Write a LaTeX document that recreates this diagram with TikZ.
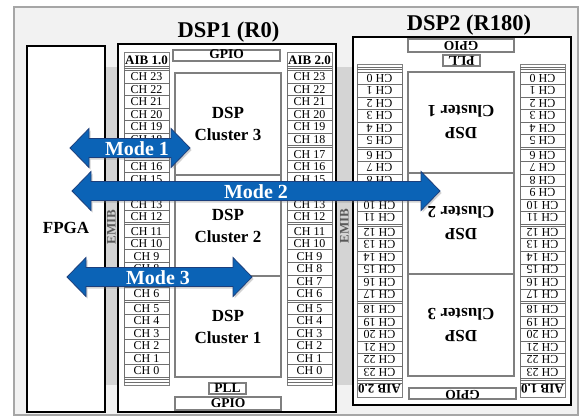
\documentclass[tikz,border=0pt]{standalone}
\usepackage{fontspec}
\setmainfont{Liberation Serif}
\usetikzlibrary{shadows}
\definecolor{bgc}{HTML}{F2F2F2}
\definecolor{bgedge}{HTML}{A6A6A6}
\definecolor{emibc}{HTML}{D4D4D4}
\definecolor{boxc}{HTML}{7F7F7F}
\definecolor{rowc}{HTML}{6E6E6E}
\definecolor{arrowfill}{HTML}{0B63B6}
\definecolor{arrowedge}{HTML}{1C3F7C}
\tikzset{
  chipline/.style={draw=black, line width=2.2pt, fill=white},
  boxline/.style={draw=boxc, line width=1.1pt, fill=white},
  colline/.style={draw=boxc, line width=0.9pt, fill=white},
  rowline/.style={draw=rowc, line width=0.6pt},
  lbl/.style={font=\bfseries\fontsize{13.5}{13.5}\selectfont, inner sep=0pt},
  aib/.style={font=\bfseries\fontsize{13}{13}\selectfont, inner sep=0pt},
  clus/.style={font=\bfseries\fontsize{17}{22}\selectfont, align=center, inner sep=0pt},
  chl/.style={font=\fontsize{12}{12}\selectfont, inner sep=0pt},
  titletxt/.style={font=\bfseries\fontsize{22.5}{22.5}\selectfont, inner sep=0pt, anchor=base},
  fpgatxt/.style={font=\bfseries\fontsize{17}{17}\selectfont, inner sep=0pt},
  emibtxt/.style={font=\bfseries\fontsize{13}{13}\selectfont, text=black!65, inner sep=0pt, rotate=90},
  modetxt/.style={font=\bfseries\fontsize{20}{20}\selectfont, text=white, inner sep=0pt},
  arrowstyle/.style={fill=arrowfill, draw=arrowedge, line width=0.8pt, line join=miter,
    drop shadow={shadow xshift=1.5pt, shadow yshift=-2pt, opacity=0.35}}
}
% one AIB column: x1, x2, label, id
\newcommand\aibcol[4]{%
  \draw[colline] (#1,-176) rectangle (#2,157);
  \node[aib] (#4h) at ({((#1)+(#2))/2},-168) {#3};
  \foreach \yy in {-162,-159.7} \draw[rowline] (#1,\yy) -- (#2,\yy);
  \foreach \i in {0,...,23}{%
    \pgfmathsetmacro\tt{-157.5+\i*12.52+2*floor(\i/6)}%
    \pgfmathtruncatemacro\ch{23-\i}%
    \draw[rowline] (#1,\tt) rectangle (#2,\tt+12.52);
    \node[chl] (#4\ch) at ({((#1)+(#2))/2},\tt+6.5) {CH \ch};
  }
  \foreach \yy in {151.5,154} \draw[rowline] (#1,\yy) -- (#2,\yy);
}
\newcommand\chipbody{%
  \draw[chipline] (-109,-184) rectangle (109,184);
  \draw[boxline] (-54,-178) rectangle (53,-167);
  \node[lbl] (gpiot) at (-0.5,-173.5) {GPIO};
  \draw[boxline] (-52,-155) rectangle (54,-53.5);
  \node[clus] (cl3) at (1,-104) {DSP\\Cluster 3};
  \draw[boxline] (-52,-52.5) rectangle (54,47.5);
  \node[clus] (cl2) at (1,-2.5) {DSP\\Cluster 2};
  \draw[boxline] (-52,48.5) rectangle (54,149);
  \node[clus] (cl1) at (1,98.5) {DSP\\Cluster 1};
  \draw[boxline] (-18,155) rectangle (19,166);
  \node[lbl] (pll) at (0.5,160.5) {PLL};
  \draw[boxline] (-52,169) rectangle (54,182);
  \node[lbl] (gpiob) at (1,175.5) {GPIO};
  \aibcol{-103}{-58}{AIB 1.0}{a}
  \aibcol{60}{105}{AIB 2.0}{b}
}
% double block arrow: xl, xr, y, name, text x, text
\newcommand\modearrow[6]{%
  \draw[arrowstyle] (#1,#3) -- ++(19,-19.5) -- ++(0,10) -- (#2-19,#3-9.5) -- ++(0,-10)
    -- (#2,#3) -- ++(-19,19.5) -- ++(0,-10) -- (#1+19,#3+9.5) -- ++(0,10) -- cycle;
  \node[modetxt] (#4) at (#5,#3+1) {#6};
}
\begin{document}
\begin{tikzpicture}[x=1pt,y=-1pt]
  \useasboundingbox (0,0) rectangle (584,418);
  \fill[white] (0,0) rectangle (584,418);
  \draw[fill=bgc, draw=bgedge, line width=1.2pt] (14,7) rectangle (578,415);
  % EMIB strips
  \fill[emibc] (104,67) rectangle (119,385);
  \fill[emibc] (335,67) rectangle (354,385);
  % FPGA
  \draw[chipline] (27,46) rectangle (105,412);
  \node[fpgatxt] (fpga) at (66,228) {FPGA};
  % DSP1
  \begin{scope}[shift={(227,228)}, name prefix=dA-]
    \chipbody
  \end{scope}
  % DSP2 (rotated 180)
  \begin{scope}[shift={(462,221)}, rotate=180, transform shape, name prefix=dB-]
    \chipbody
  \end{scope}
  % EMIB labels
  \node[emibtxt] (emibL) at (111.5,227) {EMIB};
  \node[emibtxt] (emibR) at (344.5,226) {EMIB};
  % titles
  \node[titletxt] (t1) at (228.5,37.5) {DSP1 (R0)};
  \node[titletxt] (t2) at (469,30.5) {DSP2 (R180)};
  % mode arrows
  \modearrow{70}{190}{148}{m1}{137}{Mode 1}
  \modearrow{72}{440}{191}{m2}{256}{Mode 2}
  \modearrow{67}{252}{277}{m3}{158}{Mode 3}
\end{tikzpicture}
\end{document}
